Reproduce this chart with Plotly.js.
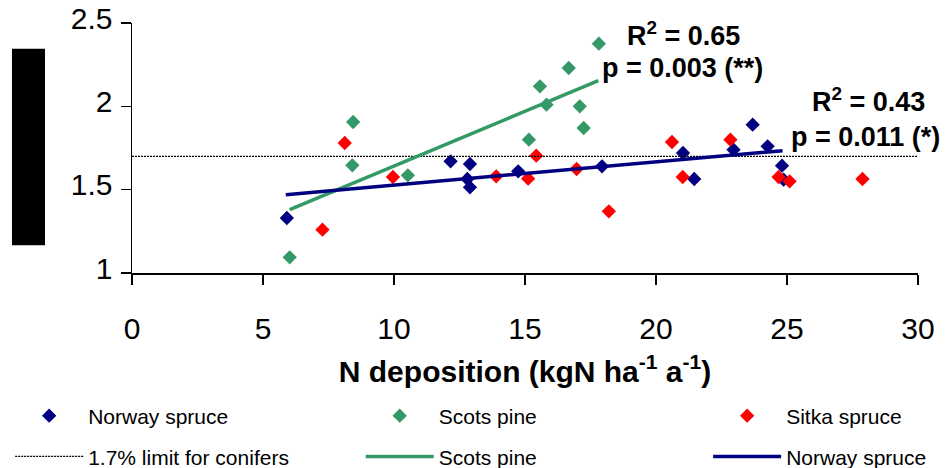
<!DOCTYPE html>
<html>
<head>
<meta charset="utf-8">
<script src="https://cdn.plot.ly/plotly-3.0.1.min.js"></script>
<style>
html,body{margin:0;padding:0;background:#fff;}
#chart{width:947px;height:468px;}
</style>
</head>
<body>
<div id="chart"></div>
<script>
// Data
var norwayX = [5.91, 12.16, 12.9, 12.8, 12.9, 14.74, 17.94, 21.03, 21.46, 22.96, 23.69, 24.26, 24.81, 24.87];
var norwayY = [1.33, 1.67, 1.654, 1.564, 1.514, 1.61, 1.64, 1.72, 1.564, 1.74, 1.89, 1.76, 1.644, 1.56];

var scotsX = [6.02, 8.44, 8.41, 10.53, 15.15, 15.57, 15.82, 16.67, 17.09, 17.24, 17.82];
var scotsY = [1.094, 1.906, 1.646, 1.586, 1.80, 2.12, 2.01, 2.23, 2.00, 1.87, 2.376];

var sitkaX = [7.27, 8.12, 9.96, 13.9, 15.12, 15.43, 16.97, 18.2, 20.61, 21.02, 22.84, 24.68, 25.1, 27.88];
var sitkaY = [1.26, 1.78, 1.576, 1.58, 1.566, 1.704, 1.624, 1.37, 1.786, 1.576, 1.80, 1.576, 1.55, 1.564];

var limitX = [0, 30];
var limitY = [1.7, 1.7];

var scotsFitX = [6.02, 17.8];
var scotsFitY = [1.38, 2.154];

var norwayFitX = [5.87, 24.83];
var norwayFitY = [1.47, 1.734];

var xTickVals = [0, 5, 10, 15, 20, 25, 30];
var yTickVals = [1, 1.5, 2, 2.5];
var yTickText = ['1', '1.5', '2', '2.5'];

var statLabels = ['R<sup>2</sup> = 0.65', 'p = 0.003 (**)', 'R<sup>2</sup> = 0.43', 'p = 0.011 (*)'];

var NAVY = '#000080', GREEN = '#339966', RED = '#FF0000';
var FONT = '"Liberation Sans", Arial, sans-serif';

var traces = [
  {x: norwayX, y: norwayY, mode: 'markers', type: 'scatter', name: 'Norway spruce',
   marker: {symbol: 'diamond', size: 11, color: NAVY}, legend: 'legend'},
  {x: scotsX, y: scotsY, mode: 'markers', type: 'scatter', name: 'Scots pine',
   marker: {symbol: 'diamond', size: 11, color: GREEN}, legend: 'legend2'},
  {x: sitkaX, y: sitkaY, mode: 'markers', type: 'scatter', name: 'Sitka spruce',
   marker: {symbol: 'diamond', size: 11, color: RED}, legend: 'legend3'},
  {x: limitX, y: limitY, mode: 'lines', type: 'scatter', name: '1.7% limit for conifers',
   line: {color: '#000', width: 1.3, dash: '2px,1px'}, legend: 'legend4'},
  {x: scotsFitX, y: scotsFitY, mode: 'lines', type: 'scatter', name: 'Scots pine',
   line: {color: GREEN, width: 3.5}, legend: 'legend5'},
  {x: norwayFitX, y: norwayFitY, mode: 'lines', type: 'scatter', name: 'Norway spruce',
   line: {color: NAVY, width: 3.5}, legend: 'legend6'}
];

function leg(x, y) {
  return {x: x, y: y, xanchor: 'left', yanchor: 'middle', orientation: 'v',
          bgcolor: 'rgba(0,0,0,0)', itemwidth: 68,
          font: {family: FONT, size: 21, color: '#000'}};
}

var annFont = {family: FONT, size: 27, color: '#000', weight: 'bold'};

var layout = {
  width: 947, height: 468,
  margin: {l: 132, r: 29, t: 23, b: 195, autoexpand: false},
  paper_bgcolor: '#fff', plot_bgcolor: '#fff',
  font: {family: FONT, color: '#000'},
  showlegend: true,
  xaxis: {
    range: [0, 30], tickvals: xTickVals, ticktext: xTickVals.map(String),
    showgrid: false, zeroline: false, showline: true, linecolor: '#000', linewidth: 1.5,
    ticks: 'outside', ticklen: 10, tickwidth: 1.5, tickcolor: '#000', automargin: false,
    tickfont: {family: FONT, size: 30, color: '#000'}, ticklabelstandoff: 18,
    title: {text: '<b>N deposition (kgN ha<sup>-1</sup> a<sup>-1</sup>)</b>',
            font: {family: FONT, size: 30, color: '#000'}, standoff: 17}
  },
  yaxis: {
    range: [1, 2.5], tickvals: yTickVals, ticktext: yTickText,
    showgrid: false, zeroline: false, showline: true, linecolor: '#000', linewidth: 1.5,
    ticks: 'outside', ticklen: 10, tickwidth: 1.5, tickcolor: '#000', automargin: false,
    tickfont: {family: FONT, size: 30, color: '#000'}, ticklabelstandoff: 2, ticklabelshift: -5
  },
  legend: leg(-0.155, -0.572),
  legend2: leg(0.291, -0.572),
  legend3: leg(0.733, -0.572),
  legend4: leg(-0.155, -0.735),
  legend5: leg(0.291, -0.735),
  legend6: leg(0.733, -0.735),
  annotations: [
    {x: 18.83, y: 2.436, xref: 'x', yref: 'y', text: '<b>' + statLabels[0] + '</b>', showarrow: false, xanchor: 'left', yanchor: 'middle', font: annFont},
    {x: 17.88, y: 2.232, xref: 'x', yref: 'y', text: '<b>' + statLabels[1] + '</b>', showarrow: false, xanchor: 'left', yanchor: 'middle', font: annFont},
    {x: 25.89, y: 2.039, xref: 'x', yref: 'y', text: '<b>' + statLabels[2] + '</b>', showarrow: false, xanchor: 'left', yanchor: 'middle', font: annFont},
    {x: 25.09, y: 1.818, xref: 'x', yref: 'y', text: '<b>' + statLabels[3] + '</b>', showarrow: false, xanchor: 'left', yanchor: 'middle', font: annFont}
  ],
  shapes: [
    {type: 'rect', xref: 'paper', yref: 'paper', x0: -0.1527, x1: -0.1107, y0: 0.111, y1: 0.897,
     fillcolor: '#000', line: {width: 0}, layer: 'above'}
  ]
};

Plotly.newPlot('chart', traces, layout, {displayModeBar: false, staticPlot: true});
</script>
</body>
</html>
